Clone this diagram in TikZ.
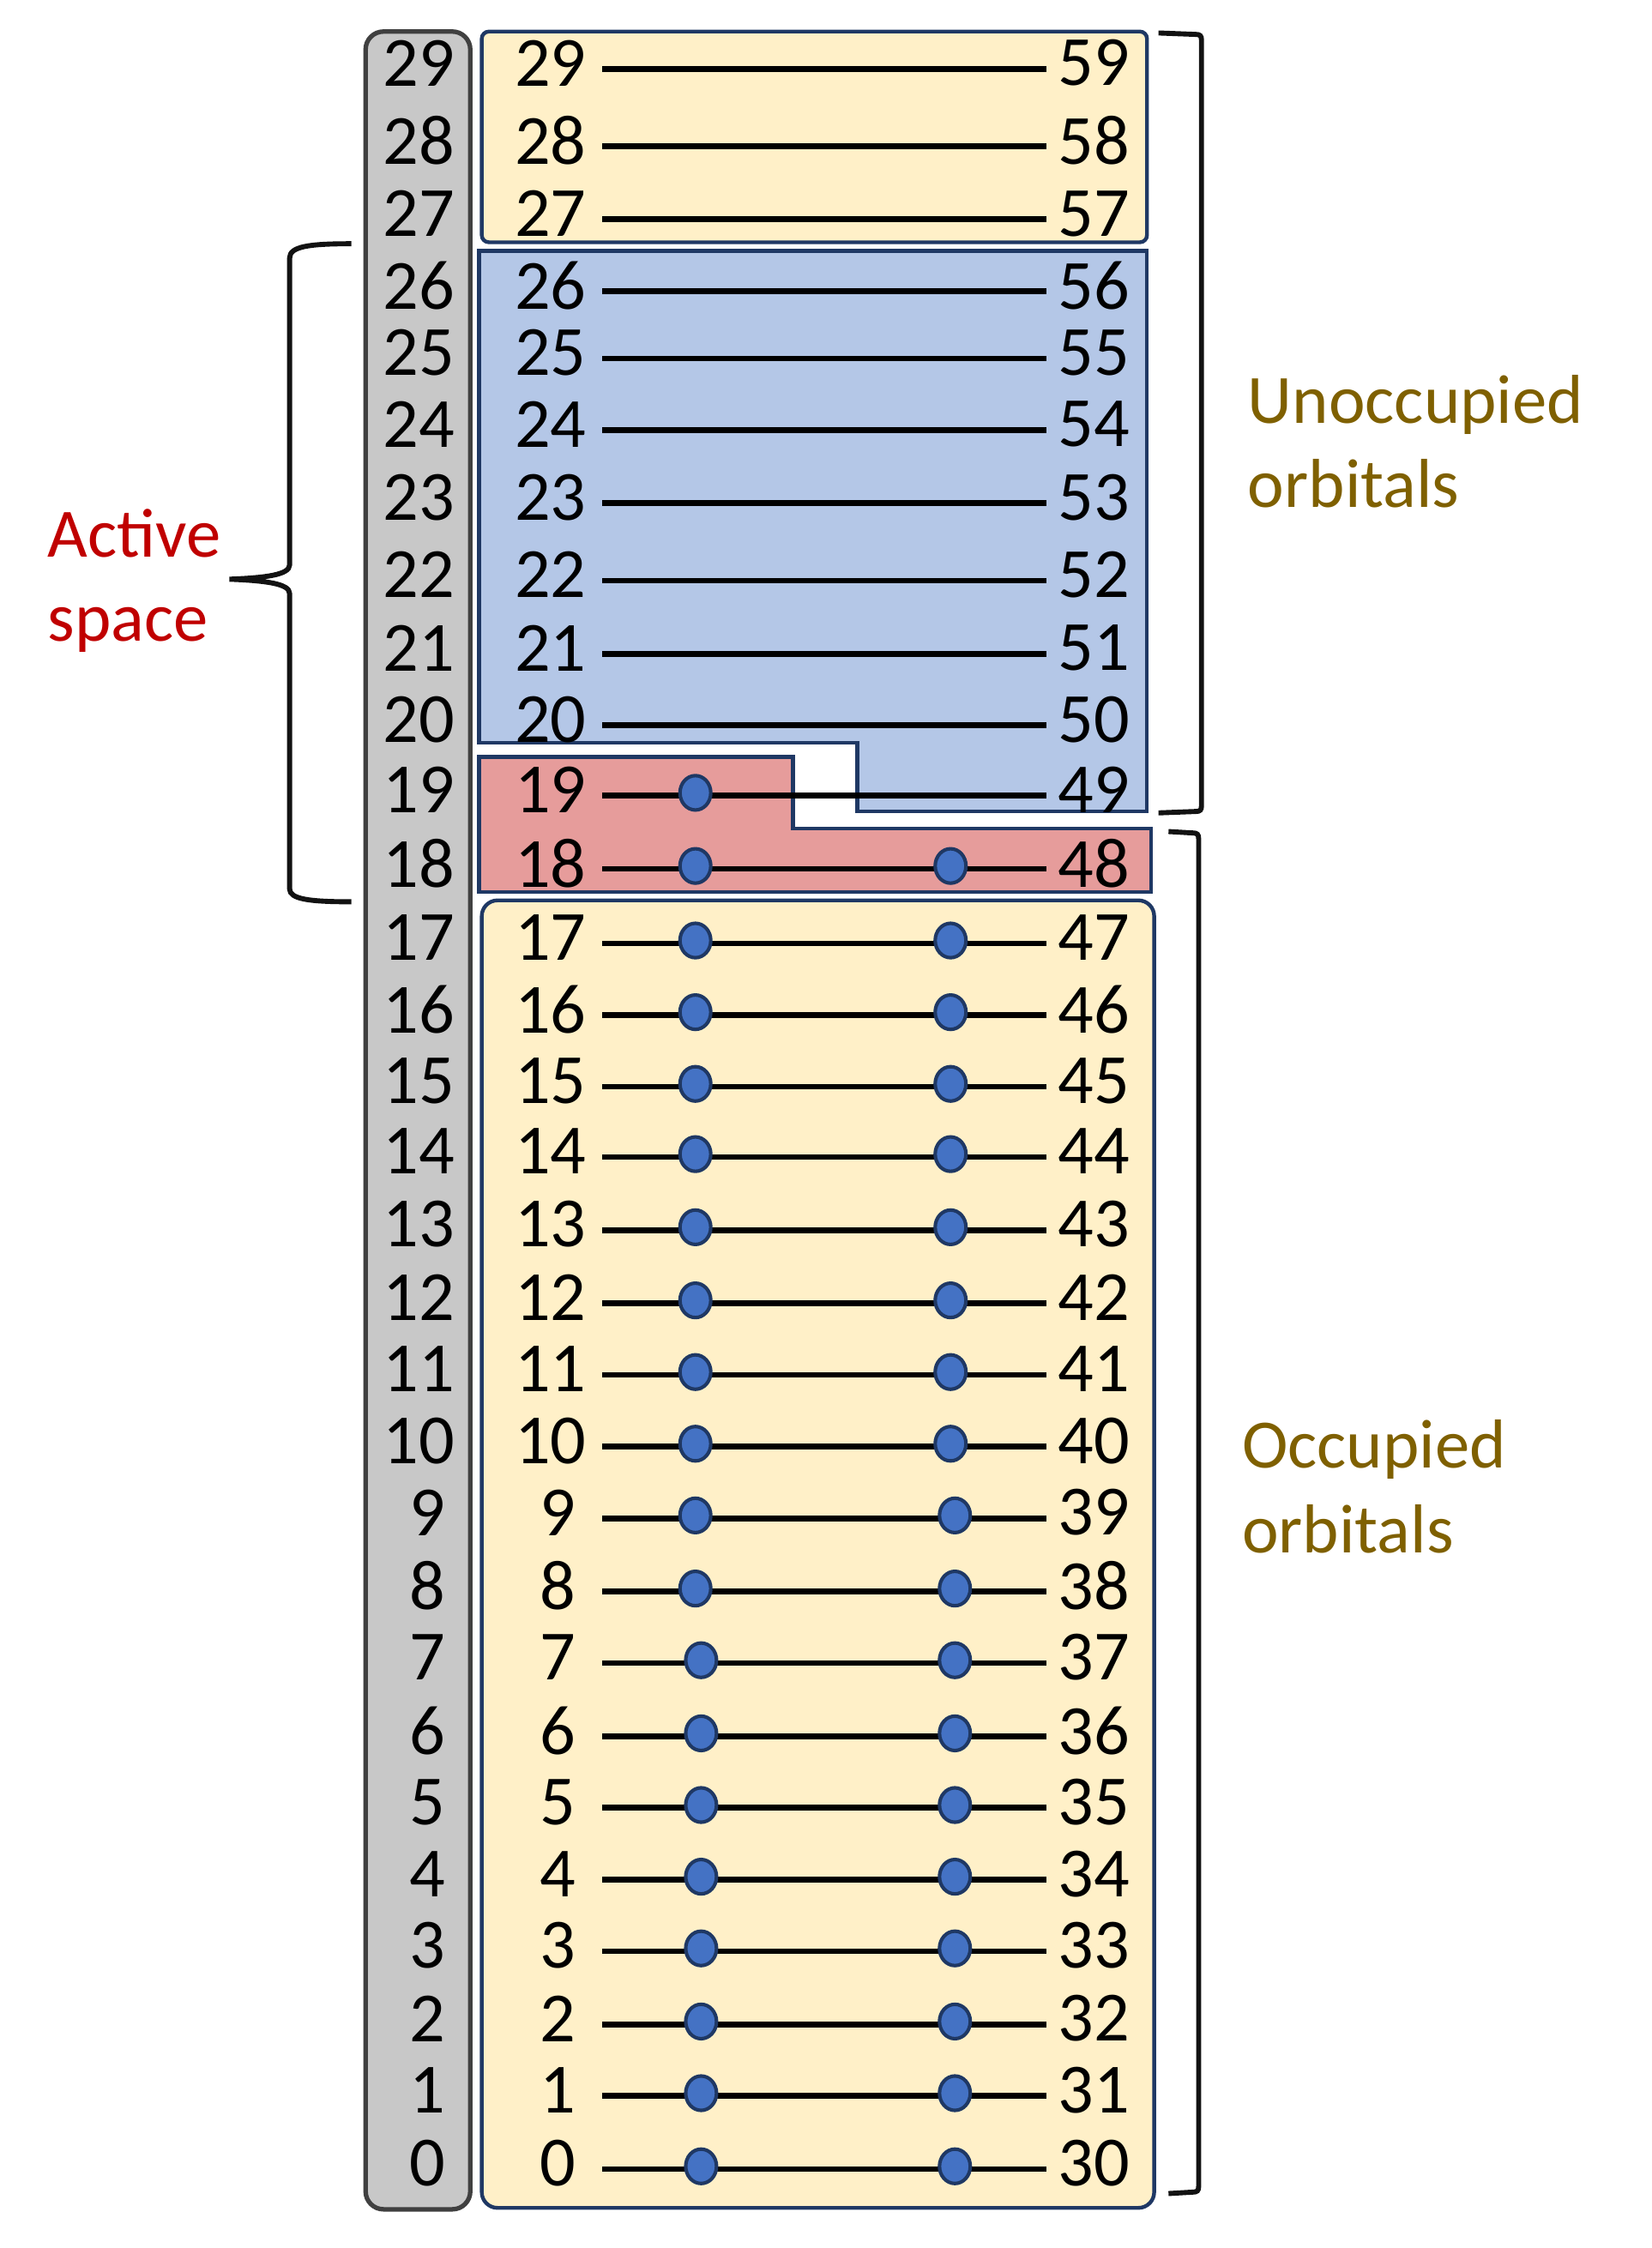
\documentclass[tikz,border=0pt]{standalone}
\usepackage{fontspec}
\setmainfont{Carlito}
\usetikzlibrary{shapes.geometric}
\definecolor{navy}{HTML}{1F3864}
\definecolor{yelfill}{HTML}{FFF0C8}
\definecolor{bluefill}{HTML}{B4C7E7}
\definecolor{redfill}{HTML}{E69C9B}
\definecolor{grayfill}{HTML}{C8C8C8}
\definecolor{grayedge}{HTML}{404040}
\definecolor{dotblue}{HTML}{4472C4}
\definecolor{actred}{HTML}{C00000}
\definecolor{gold}{HTML}{7F6000}
\begin{document}
\begin{tikzpicture}[x=0.02cm,y=-0.02cm,
  numtxt/.style={inner sep=0pt, font=\fontsize{28}{33}\selectfont},
  lbl/.style={inner sep=0pt, align=left, font=\fontsize{27.5}{33.5}\selectfont},
  orb/.style={line width=2.3pt, black},
  elec/.style={ellipse, draw=navy, fill=dotblue, line width=1.4pt, minimum width=0.43cm, minimum height=0.48cm, inner sep=0pt},
  boxed/.style={draw=navy, line width=1.5pt},
  brace/.style={line width=2pt, draw=black!93}]
\useasboundingbox (0,0) rectangle (1152,1568);
% gray column
\draw[fill=grayfill, draw=grayedge, line width=1.8pt, rounded corners=0.25cm] (255,22) rectangle (328,1541);
% boxes
\draw[boxed, fill=yelfill, rounded corners=0.1cm] (336,22) rectangle (800,169);
\draw[boxed, fill=bluefill] (334,175) -- (800,175) -- (800,566) -- (598,566) -- (598,518) -- (334,518) -- cycle;
\draw[boxed, fill=redfill] (334,528) -- (553,528) -- (553,578) -- (803,578) -- (803,622) -- (334,622) -- cycle;
\draw[boxed, fill=yelfill, rounded corners=0.22cm] (336,628) rectangle (805,1540);
% rows
\foreach \i/\y in {29/48,28/102,27/153,26/203,25/250,24/300,23/351,22/405,21/456,20/506,19/555,18/606,17/658,16/708,15/758,14/807,13/858,12/909,11/959,10/1009,9/1059,8/1110,7/1160,6/1211,5/1261,4/1311,3/1361,2/1412,1/1462,0/1513} {
  \pgfmathtruncatemacro\r{\i+30}
  \pgfmathsetmacro\ty{\y-4}
  \pgfmathsetmacro\gx{\i<10 ? 298 : 292}
  \pgfmathsetmacro\ax{\i<10 ? 389 : 384}
  \node[numtxt] (g\i) at (\gx,\ty) {\i};
  \node[numtxt] (a\i) at (\ax,\ty) {\i};
  \node[numtxt] (b\i) at (763,\ty) {\r};
  \coordinate (ls\i) at (420,\y);
  \coordinate (le\i) at (730,\y);
  \draw[orb] (ls\i) -- (le\i);
}
% electrons
\foreach \i/\y in {19/555,18/606,17/658,16/708,15/758,14/807,13/858,12/909,11/959,10/1009,9/1059,8/1110,7/1160,6/1211,5/1261,4/1311,3/1361,2/1412,1/1462,0/1513} {
  \pgfmathsetmacro\dl{\i<8 ? 489 : 485}
  \pgfmathsetmacro\dy{\y-2}
  \node[elec] (ea\i) at (\dl,\dy) {};
}
\foreach \i/\y in {18/606,17/658,16/708,15/758,14/807,13/858,12/909,11/959,10/1009,9/1059,8/1110,7/1160,6/1211,5/1261,4/1311,3/1361,2/1412,1/1462,0/1513} {
  \pgfmathsetmacro\dr{\i<10 ? 666 : 663}
  \pgfmathsetmacro\dy{\y-2}
  \node[elec] (eb\i) at (\dr,\dy) {};
}
% active space brace
\draw[brace] (245,170) .. controls (215,170) and (202,172) .. (202,180) -- (202,394)
  .. controls (202,401) and (185,403) .. (160,404)
  .. controls (185,405) and (202,407) .. (202,414) -- (202,620)
  .. controls (202,627) and (215,629) .. (245,629);
\node[lbl, text=actred, anchor=west] (act) at (33,405) {Active\\space};
% unoccupied bracket
\draw[brace] (808,23) -- (834,24) .. controls (837,24) and (838,25) .. (838,28) -- (838,562)
  .. controls (838,565) and (837,566) .. (834,566) -- (808,567);
\node[lbl, text=gold, anchor=west] (unocc) at (870,308) {Unoccupied\\orbitals};
% occupied bracket
\draw[brace] (815,580) -- (832,581) .. controls (835,581) and (836,582) .. (836,585) -- (836,1525)
  .. controls (836,1528) and (835,1529) .. (832,1529) -- (815,1530);
\node[lbl, text=gold, anchor=west] (occ) at (866,1037) {Occupied\\orbitals};
\end{tikzpicture}
\end{document}
